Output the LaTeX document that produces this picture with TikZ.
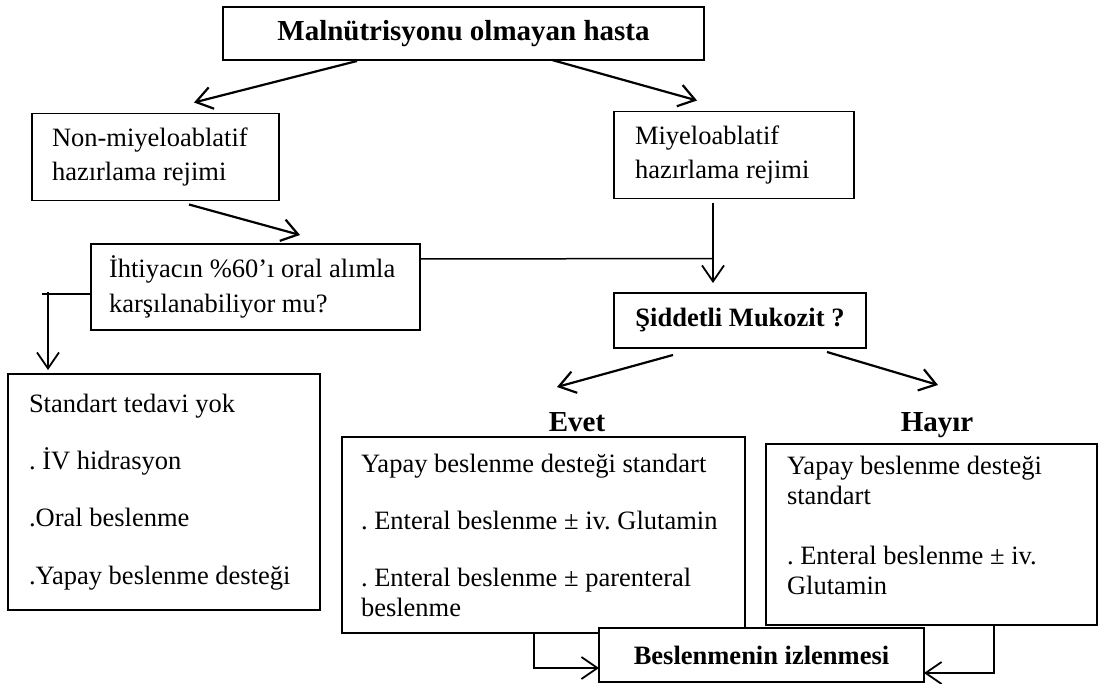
\documentclass[tikz,border=0pt]{standalone}
\usepackage{fontspec}
\setmainfont{Liberation Serif}
\usetikzlibrary{arrows.meta,calc}
\frenchspacing
\begin{document}
\begin{tikzpicture}[x=1pt,y=-1pt,
  box/.style={draw, line width=1.2pt, outer sep=0pt, inner ysep=0pt, fill=white},
  tbox/.style={box, align=flush left, font=\frenchspacing\fontsize{26.5pt}{34.5pt}\selectfont},
  lbox/.style={box, align=flush left, font=\frenchspacing\fontsize{26.5pt}{30pt}\selectfont},
  bbox/.style={box, align=center, font=\bfseries\fontsize{26.5pt}{32pt}\selectfont},
  lbl/.style={inner sep=0pt, text height=19pt, text depth=6pt,
              font=\bfseries\fontsize{29pt}{32pt}\selectfont},
  ln/.style={line width=1.5pt},
  arr/.style={line width=2.2pt, -{Straight Barb[length=16pt,width=22pt]}},
  arrv/.style={line width=1.8pt, -{Straight Barb[length=16pt,width=22pt]}}
]
\useasboundingbox (0,0) rectangle (1099,684);

% boxes
\node[box, font=\bfseries\fontsize{29pt}{32pt}\selectfont,
      minimum width=481pt, minimum height=53pt] (top) at (463.5,33.5)
      {Malnütrisyonu olmayan hasta};

\node[tbox, minimum width=247pt, minimum height=87pt, inner xsep=20pt,
      text width=207pt] (nonm) at (155.5,157)
      {Non-miyeloablatif\\hazırlama rejimi};

\node[tbox, minimum width=240pt, minimum height=87pt, inner xsep=21pt,
      text width=198pt] (miye) at (734,155)
      {Miyeloablatif\\hazırlama rejimi};

\node[tbox, minimum width=329pt, minimum height=86pt, inner xsep=18pt,
      text width=293pt] (ihti) at (255.5,287)
      {İhtiyacın \%60’ı oral alımla\\karşılanabiliyor mu?};

\node[bbox, minimum width=252pt, minimum height=55pt] (sidd) at (740,320.5)
      {Şiddetli Mukozit ?};

\node[lbox, minimum width=312pt, minimum height=236pt, inner xsep=21pt,
      text width=270pt] (std) at (164,492)
      {Standart tedavi yok\\[27.3pt]. İV hidrasyon\\[27.3pt].Oral beslenme\\[27.3pt].Yapay beslenme desteği};

\node[lbl] (evetl) at (577,425) {Evet};
\node[lbl] (hayirl) at (937,425) {Hayır};

\node[lbox, minimum width=403pt, minimum height=196pt, inner xsep=19pt,
      text width=365pt] (evet) at (543.5,535)
      {Yapay beslenme desteği standart\\[27pt]. Enteral beslenme ± iv. Glutamin\\[27pt]. Enteral beslenme ± parenteral\\beslenme};

\node[lbox, minimum width=331pt, minimum height=181pt, inner xsep=21pt,
      text width=289pt] (hayir) at (931.5,534.5)
      {Yapay beslenme desteği\\standart\\[30pt]. Enteral beslenme ± iv.\\Glutamin\\[-12pt]\mbox{}};

\node[bbox, minimum width=325pt, minimum height=54pt] (besl) at (761.5,655)
      {Beslenmenin izlenmesi};

% connectors
\draw[arr] ($(top.south)+(-106.5,1)$) -- ($(nonm.north)+(38.5,-11)$);
\draw[arr] ($(top.south)+(88.5,0)$) -- ($(miye.north)+(-37,-11)$);
\draw[arr] ($(nonm.south)+(33.5,4)$) -- ($(ihti.north)+(44.5,-9)$);
\draw[arrv] ($(miye.south)+(-21,5)$) -- ($(sidd.north)+(-27,-10)$);
\coordinate (join) at ($(miye.south)+(-21,60)$);
\draw[ln] ($(ihti.east)+(0,-28)$) -- (join);
\draw[ln] ($(ihti.west)+(0,7)$) -- ++(-49,0);
\draw[arrv] ($(ihti.west)+(-43,5)$) -- ($(std.north)+(-116,-4)$);
\draw[arr] ($(sidd.south)+(-67,7)$) -- ($(evet.north)+(13.5,-50)$);
\draw[arr] ($(sidd.south)+(87,4)$) -- ($(hayir.north)+(6.5,-59)$);
\draw[arrv] ($(evet.south)+(-9.5,0)$) |- ($(besl.west)+(0,13)$);
\draw[arrv] ($(hayir.south)+(62.5,0)$) |- ($(besl.east)+(0,18)$);
\end{tikzpicture}
\end{document}
